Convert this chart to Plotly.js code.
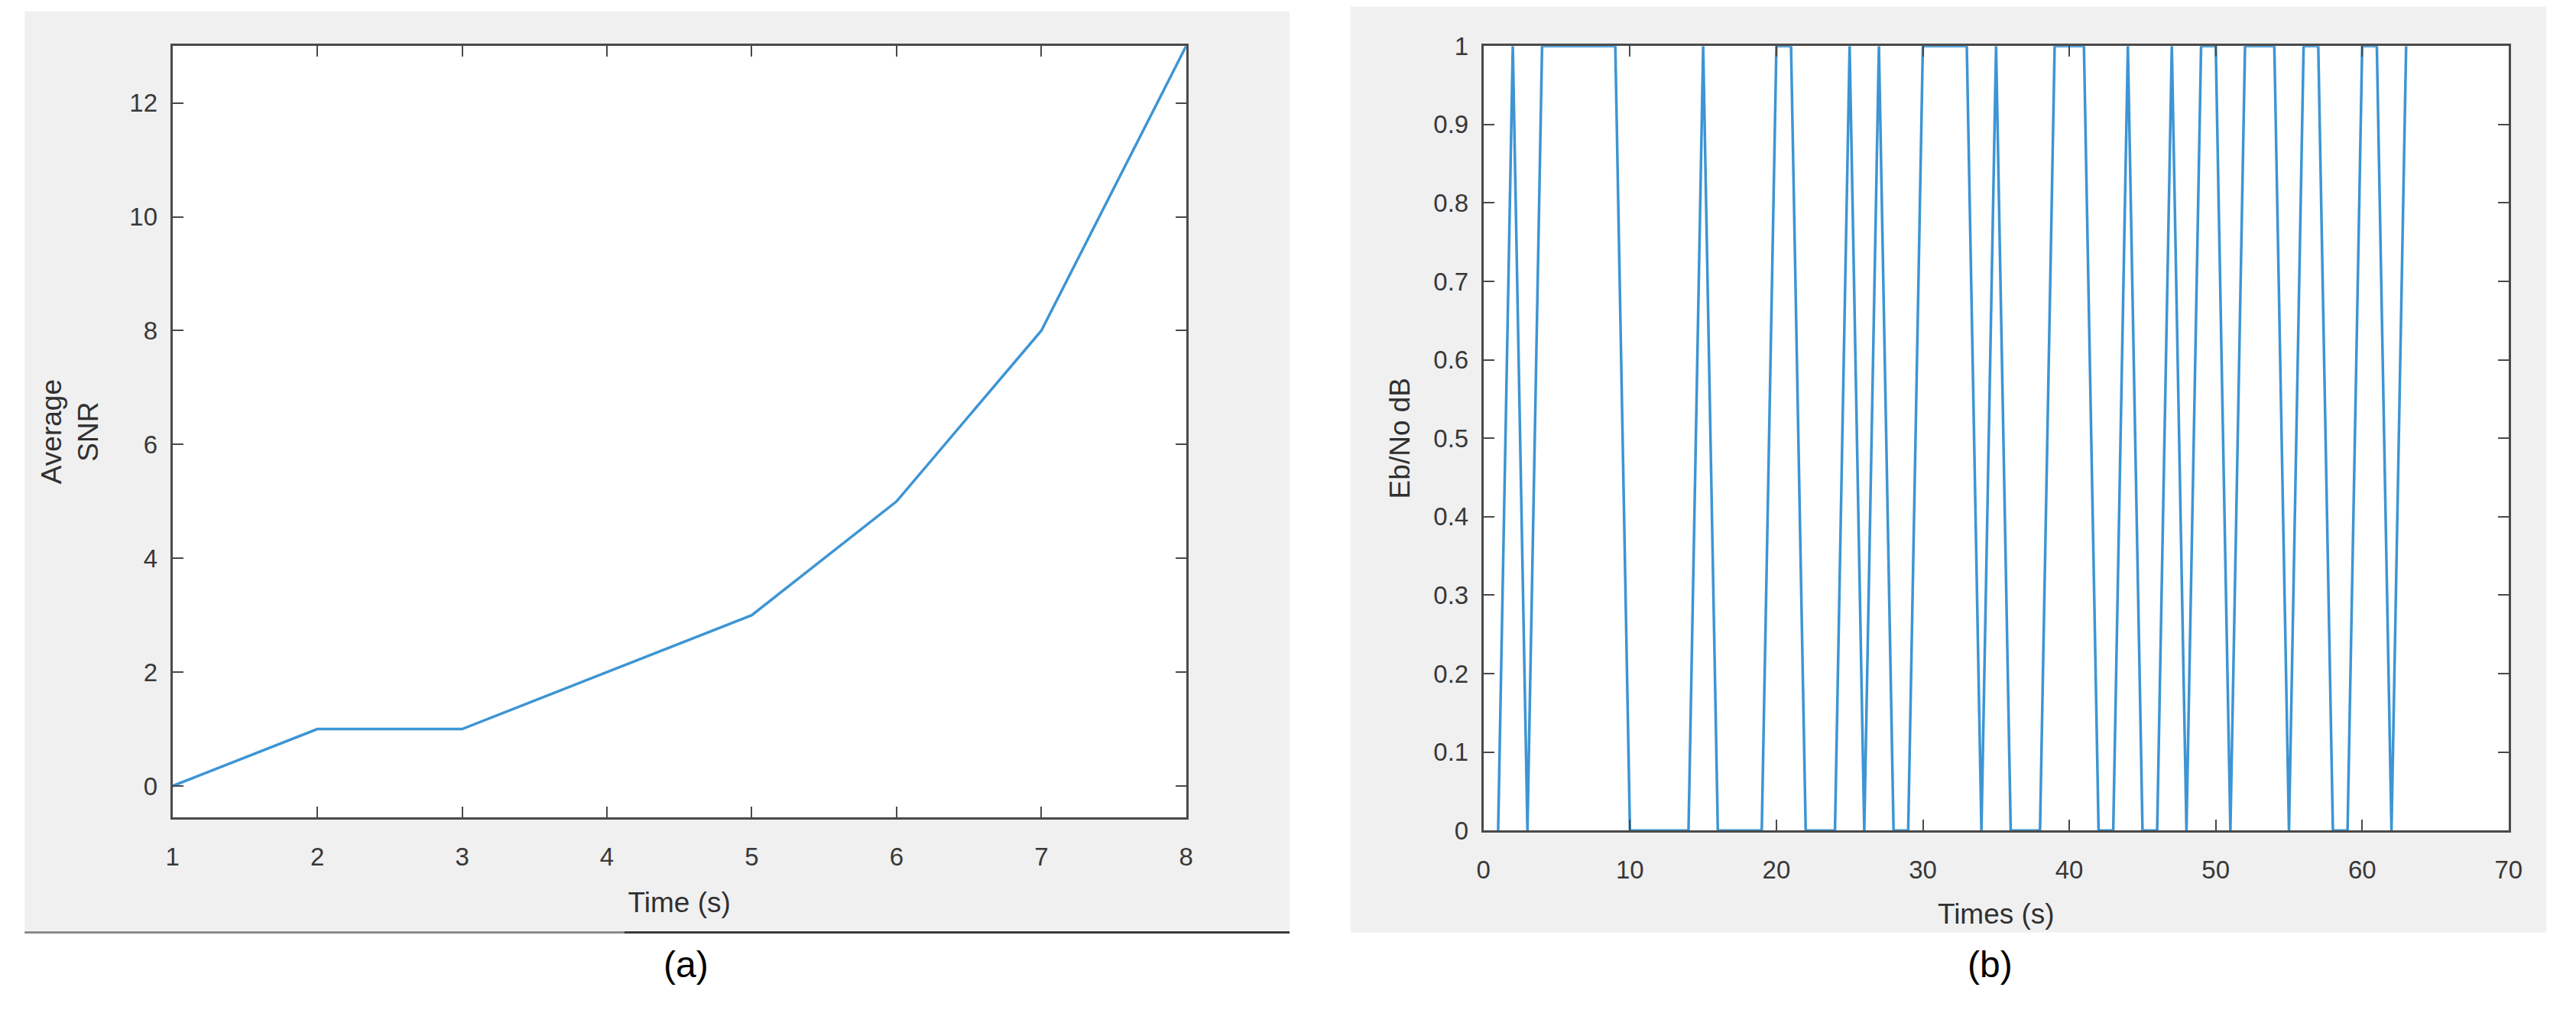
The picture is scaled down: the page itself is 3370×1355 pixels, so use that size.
<!DOCTYPE html>
<html><head><meta charset="utf-8">
<script src="https://cdn.plot.ly/plotly-3.0.1.min.js"></script>
<style>html,body{margin:0;padding:0;background:#fff}#chart{width:3370px;height:1355px}</style>
</head><body><div id="chart"></div>
<script>
// Panel (a)
const timeA = [1, 2, 3, 4, 5, 6, 7, 8];
const snrA = [0, 1, 1, 2, 3, 5, 8, 13];
const ticksA_y = [0, 2, 4, 6, 8, 10, 12];
const ticksA_x = [1, 2, 3, 4, 5, 6, 7, 8];

// Panel (b)
const timeB = [1,2,3,4,5,6,7,8,9,10,11,12,13,14,15,16,17,18,19,20,21,22,23,24,25,26,27,28,29,30,31,32,
  33,34,35,36,37,38,39,40,41,42,43,44,45,46,47,48,49,50,51,52,53,54,55,56,57,58,59,60,61,62,63];
const ebnoB = [0,1,0,1,1,1,1,1,1,0,0,0,0,0,1,0,0,0,0,1,1,0,0,0,1,0,1,0,0,1,1,1,
  1,0,1,0,0,0,1,1,1,0,0,1,0,0,1,0,1,1,0,1,1,1,0,1,1,0,0,1,1,0,1];
const ticksB_y = [0, 0.1, 0.2, 0.3, 0.4, 0.5, 0.6, 0.7, 0.8, 0.9, 1];
const ticksB_x = [0, 10, 20, 30, 40, 50, 60, 70];

const lineColor = '#3d95d4';
const axisColor = '#4a4a4a';
const tickFont = {family: 'Liberation Sans, Arial, sans-serif', size: 33, color: '#383838'};
const titleFont = {family: 'Liberation Sans, Arial, sans-serif', size: 37, color: '#303030'};

const W = 1568, H = 630;
const fx = v => v / W;
const fy = v => 1 - v / H;

const traces = [
  {x: timeA, y: snrA, type: 'scatter', mode: 'lines', line: {color: lineColor, width: 3.5}, xaxis: 'x', yaxis: 'y', showlegend: false, hoverinfo: 'skip'},
  {x: timeB, y: ebnoB, type: 'scatter', mode: 'lines', line: {color: lineColor, width: 3.5}, xaxis: 'x2', yaxis: 'y2', showlegend: false, hoverinfo: 'skip', cliponaxis: false}
];

const axBase = {
  showgrid: false, zeroline: false, showline: true, linecolor: axisColor, linewidth: 3,
  mirror: 'ticks', ticks: 'inside', ticklen: 14, tickwidth: 2, tickcolor: axisColor,
  tickfont: tickFont, fixedrange: true
};

const layout = {
  width: 3370, height: 1355,
  margin: {l: 0, r: 0, t: 0, b: 0},
  paper_bgcolor: '#ffffff', plot_bgcolor: '#ffffff',
  showlegend: false,
  xaxis: Object.assign({}, axBase, {
    domain: [fx(105), fx(722)], range: [1, 8], tickvals: ticksA_x, anchor: 'y',
    ticklabelstandoff: 20,
    title: {text: 'Time (s)', font: titleFont, standoff: 30}
  }),
  yaxis: Object.assign({}, axBase, {
    domain: [fy(497), fy(28)], range: [-0.55, 13], tickvals: ticksA_y, anchor: 'x',
    ticklabelstandoff: 10,
    title: {text: 'Average<br>SNR', font: titleFont, standoff: 30}
  }),
  xaxis2: Object.assign({}, axBase, {
    domain: [fx(903), fx(1527)], range: [0, 70], tickvals: ticksB_x, anchor: 'y2',
    ticklabelstandoff: 20,
    title: {text: 'Times (s)', font: titleFont, standoff: 28}
  }),
  yaxis2: Object.assign({}, axBase, {
    domain: [fy(505), fy(28)], range: [0, 1], tickvals: ticksB_y, anchor: 'x2',
    ticklabelstandoff: 10,
    title: {text: 'Eb/No dB', font: titleFont, standoff: 20}
  }),
  shapes: [
    {type: 'rect', xref: 'paper', yref: 'paper', x0: fx(15), x1: fx(785), y0: fy(566), y1: fy(7), fillcolor: '#f0f0f0', line: {width: 0}, layer: 'below'},
    {type: 'rect', xref: 'paper', yref: 'paper', x0: fx(822), x1: fx(1550), y0: fy(567), y1: fy(4), fillcolor: '#f0f0f0', line: {width: 0}, layer: 'below'},
    {type: 'rect', xref: 'paper', yref: 'paper', x0: fx(105), x1: fx(722), y0: fy(497), y1: fy(28), fillcolor: '#ffffff', line: {width: 0}, layer: 'below'},
    {type: 'rect', xref: 'paper', yref: 'paper', x0: fx(903), x1: fx(1527), y0: fy(505), y1: fy(28), fillcolor: '#ffffff', line: {width: 0}, layer: 'below'},
    {type: 'line', xref: 'paper', yref: 'paper', x0: fx(15), x1: fx(380), y0: fy(567), y1: fy(567), line: {color: '#8a8a8a', width: 3}},
    {type: 'line', xref: 'paper', yref: 'paper', x0: fx(380), x1: fx(785), y0: fy(567), y1: fy(567), line: {color: '#3a3a3a', width: 3}}
  ],
  annotations: [
    {text: '(a)', xref: 'paper', yref: 'paper', x: fx(403), y: fy(600), showarrow: false, font: {family: 'Liberation Sans, Arial, sans-serif', size: 48, color: '#000'}},
    {text: '(b)', xref: 'paper', yref: 'paper', x: fx(1226), y: fy(600), showarrow: false, font: {family: 'Liberation Sans, Arial, sans-serif', size: 48, color: '#000'}}
  ]
};

Plotly.newPlot('chart', traces, layout, {staticPlot: true, displayModeBar: false});
</script>
</body></html>
